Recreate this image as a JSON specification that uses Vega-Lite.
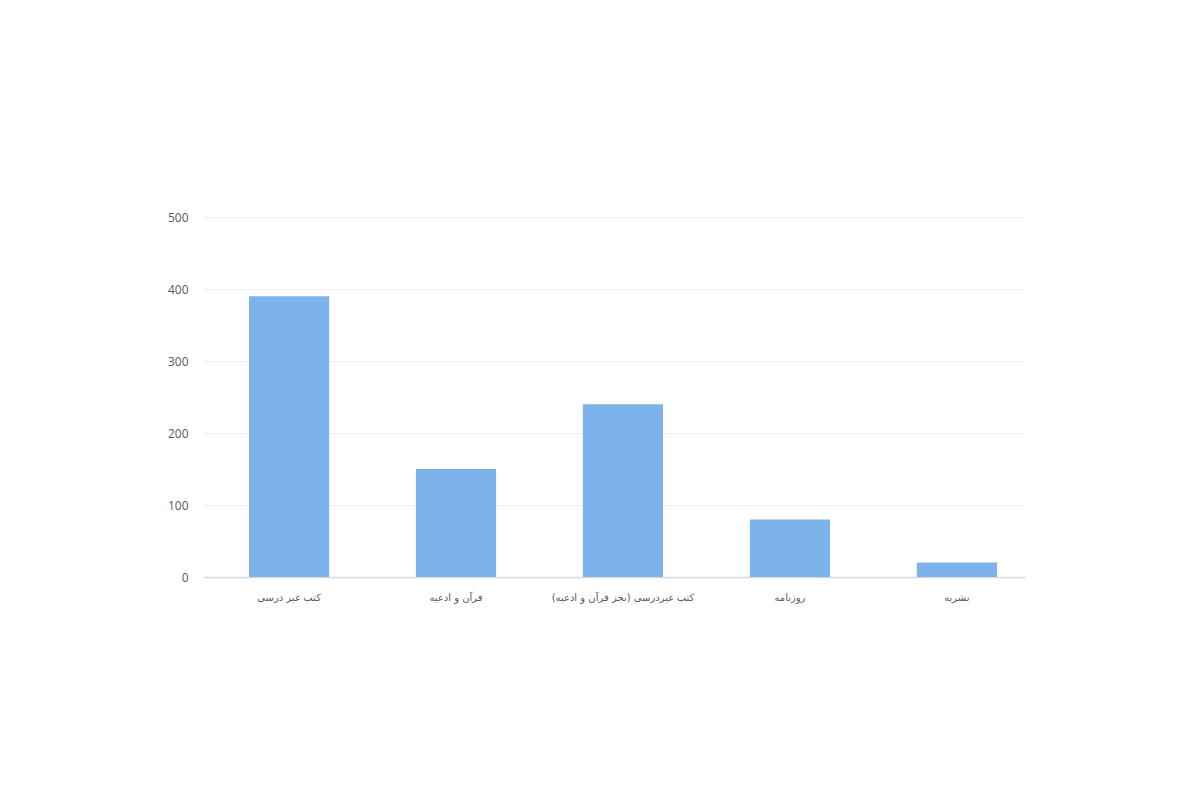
{
  "$schema": "https://vega.github.io/schema/vega-lite/v6.json",
  "width": 821,
  "height": 360,
  "padding": {"left": 167, "top": 211, "right": 10, "bottom": 10},
  "background": "#ffffff",
  "data": {
    "values": [
      {"category": "کتب غیر درسی", "count": 390},
      {"category": "قرآن و ادعیه", "count": 150},
      {"category": "کتب غیردرسی (بجز قرآن و ادعیه)", "count": 240},
      {"category": "روزنامه", "count": 80},
      {"category": "نشریه", "count": 20}
    ]
  },
  "mark": {"type": "bar", "color": "#7cb3ea"},
  "encoding": {
    "x": {
      "field": "category",
      "type": "nominal",
      "sort": null,
      "title": null,
      "scale": {"paddingInner": 0.52, "paddingOuter": 0.2186, "align": 0.616},
      "axis": {
        "labelAngle": 0,
        "ticks": false,
        "domainColor": "#d9d9d9",
        "domainWidth": 1.5,
        "labelPadding": 15,
        "labelFont": "DejaVu Sans",
        "labelFontSize": 10,
        "labelColor": "#595959"
      }
    },
    "y": {
      "field": "count",
      "type": "quantitative",
      "title": null,
      "scale": {"domain": [0, 500]},
      "axis": {
        "values": [0, 100, 200, 300, 400, 500],
        "ticks": false,
        "domain": false,
        "gridColor": "#ececec",
        "labelPadding": 16,
        "labelFont": "Open Sans",
        "labelFontSize": 12,
        "labelColor": "#595959"
      }
    }
  },
  "config": {"view": {"stroke": null}}
}
